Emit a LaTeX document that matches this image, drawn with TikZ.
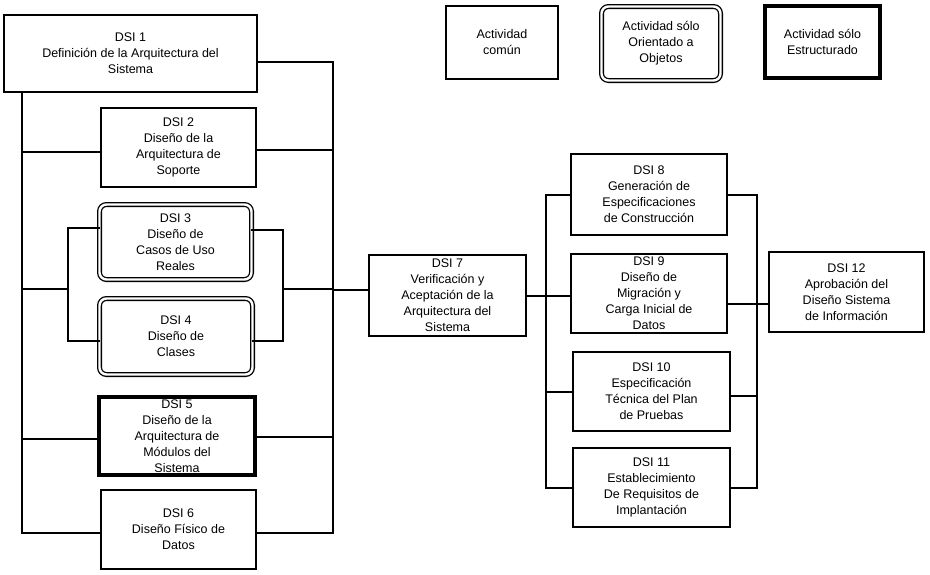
\documentclass[tikz,border=0pt]{standalone}
\usepackage{fontspec}
\setmainfont{Liberation Sans}
\begin{document}
\begin{tikzpicture}[x=1pt,y=-1pt,
  every node/.style={font=\fontsize{12.5}{16}\selectfont, align=center, inner sep=0pt},
  box/.style={draw, line width=2pt},
  dbox/.style={draw, double, double distance=2.4pt, line width=1.3pt, rounded corners=7pt},
  tbox/.style={draw, line width=4.2pt},
  link/.style={line width=2pt, line cap=rect}]
\useasboundingbox (0,0) rectangle (930,574);

% legend
\node[box, minimum width=112pt, minimum height=73pt] (leg1) at (502,42.5) {Actividad\\común};
\node[dbox, minimum width=119pt, minimum height=74pt] (leg2) at (661,43.5) {Actividad sólo\\Orientado a\\Objetos};
\node[tbox, minimum width=115pt, minimum height=72pt] (leg3) at (822.5,42) {Actividad sólo\\Estructurado};

% left column
\node[box, minimum width=253pt, minimum height=77pt] (dsi1) at (130.5,53.5) {DSI 1\\Definición de la Arquitectura del\\Sistema};
\node[box, minimum width=155pt, minimum height=79pt] (dsi2) at (178.5,147.5) {DSI 2\\Diseño de la\\Arquitectura de\\Soporte};
\node[dbox, minimum width=152pt, minimum height=75pt] (dsi3) at (175.5,242) {DSI 3\\Diseño de\\Casos de Uso\\Reales};
\node[dbox, minimum width=153pt, minimum height=76pt] (dsi4) at (176,336.5) {DSI 4\\Diseño de\\Clases};
\node[tbox, minimum width=156pt, minimum height=78pt] (dsi5) at (177,436) {DSI 5\\Diseño de la\\Arquitectura de\\Módulos del\\Sistema};
\node[box, minimum width=155pt, minimum height=79pt] (dsi6) at (178.5,529.5) {DSI 6\\Diseño Físico de\\Datos};

% middle and right
\node[box, minimum width=157pt, minimum height=81pt] (dsi7) at (447.5,295.5) {DSI 7\\Verificación y\\Aceptación de la\\Arquitectura del\\Sistema};
\node[box, minimum width=156pt, minimum height=81pt] (dsi8) at (649,194.5) {DSI 8\\Generación de\\Especificaciones\\de Construcción};
\node[box, minimum width=156pt, minimum height=79pt] (dsi9) at (649,293.5) {DSI 9\\Diseño de\\Migración y\\Carga Inicial de\\Datos};
\node[box, minimum width=157pt, minimum height=79pt] (dsi10) at (651.5,391.5) {DSI 10\\Especificación\\Técnica del Plan\\de Pruebas};
\node[box, minimum width=157pt, minimum height=79pt] (dsi11) at (651.5,487.5) {DSI 11\\Establecimiento\\De Requisitos de\\Implantación};
\node[box, minimum width=155pt, minimum height=80pt] (dsi12) at (846.5,292) {DSI 12\\Aprobación del\\Diseño Sistema\\de Información};

% bus coordinates
\coordinate (lb) at (22,0);
\coordinate (rb) at (333,0);
\coordinate (bl) at (68,0);
\coordinate (br) at (283,0);
\coordinate (m34) at (0,289);
\coordinate (b2) at (546,0);
\coordinate (b3) at (757,0);

% shifted connection points
\coordinate (d1e) at ([yshift=-8.5pt]dsi1.east);
\coordinate (d2w) at ([yshift=-4.5pt]dsi2.west);
\coordinate (d2e) at ([yshift=-2.5pt]dsi2.east);
\coordinate (d3w) at ([yshift=14pt]dsi3.west);
\coordinate (d3e) at ([yshift=12pt]dsi3.east);
\coordinate (d4w) at ([yshift=-4.5pt]dsi4.west);
\coordinate (d4e) at ([yshift=-4.5pt]dsi4.east);
\coordinate (d5w) at ([yshift=-3pt]dsi5.west);
\coordinate (d5e) at ([yshift=-1pt]dsi5.east);
\coordinate (d6w) at ([yshift=-3.5pt]dsi6.west);
\coordinate (d6e) at ([yshift=-3.5pt]dsi6.east);
\coordinate (d7w) at ([yshift=5.5pt]dsi7.west);
\coordinate (d9e) at ([yshift=-10.5pt]dsi9.east);
\coordinate (d12w) at ([yshift=-12pt]dsi12.west);
\coordinate (d10e) at ([yshift=-4.5pt]dsi10.east);

% left bus
\draw[link] (lb |- dsi1.south) -- (lb |- d6w) -- (d6w);
\draw[link] (d2w) -- (lb |- d2w);
\draw[link] (d5w) -- (lb |- d5w);
\draw[link] (lb |- m34) -- (bl |- m34);
\draw[link] (d3w) -- (bl |- d3w) -- (bl |- d4w) -- (d4w);
% right bus
\draw[link] (d1e) -- (rb |- d1e) -- (rb |- d6e) -- (d6e);
\draw[link] (d2e) -- (rb |- d2e);
\draw[link] (d5e) -- (rb |- d5e);
\draw[link] (d3e) -- (br |- d3e) -- (br |- d4e) -- (d4e);
\draw[link] (br |- m34) -- (rb |- m34);
\draw[link] (rb |- d7w) -- (d7w);

% second bus
\draw[link] (dsi8.west) -- (b2 |- dsi8.west) -- (b2 |- dsi11.west) -- (dsi11.west);
\draw[link] (dsi7.east) -- (dsi7.east -| dsi9.west);
\draw[link] (b2 |- dsi10.west) -- (dsi10.west);
% third bus
\draw[link] (dsi8.east) -- (b3 |- dsi8.east) -- (b3 |- dsi11.east) -- (dsi11.east);
\draw[link] (d9e) -- (d12w);
\draw[link] (d10e) -- (b3 |- d10e);
\end{tikzpicture}
\end{document}
